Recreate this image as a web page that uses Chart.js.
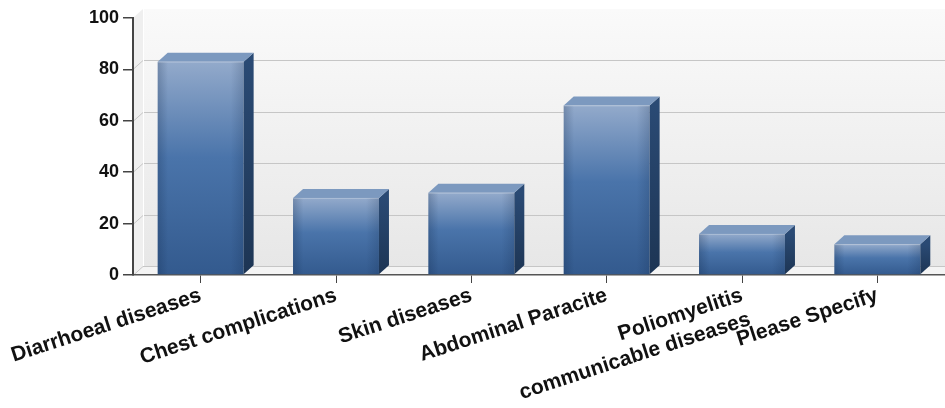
<!DOCTYPE html>
<html>
<head>
<meta charset="utf-8">
<script src="https://cdn.jsdelivr.net/npm/chart.js@4.4.1/dist/chart.umd.min.js"></script>
<style>
  html, body { margin: 0; padding: 0; background: #fff; }
  #wrap { width: 945px; height: 408px; }
</style>
</head>
<body>
<div id="wrap"><canvas id="c"></canvas></div>
<script>
// data
const categories = [
  'Diarrhoeal diseases',
  'Chest complications',
  'Skin diseases',
  'Abdominal Paracite',
  ['Poliomyelitis', 'communicable diseases'],
  'Please Specify',
];
const cases = [83, 30, 32, 66, 16, 12];
const yTicks = [0, 20, 40, 60, 80, 100];

// fake 3D depth (px)
const DX = 10;
const DY = -9;

function poly(ctx, pts, fill) {
  ctx.beginPath();
  ctx.moveTo(pts[0][0], pts[0][1]);
  for (let i = 1; i < pts.length; i++) ctx.lineTo(pts[i][0], pts[i][1]);
  ctx.closePath();
  ctx.fillStyle = fill;
  ctx.fill();
}

const box3d = {
  id: 'box3d',
  beforeDraw(chart) {
    const { ctx, chartArea: a, scales: { y } } = chart;
    ctx.save();
    ctx.fillStyle = '#fff';
    ctx.fillRect(0, 0, chart.width, chart.height);

    const bx = a.left + DX, by = a.top + DY, bb = a.bottom + DY;
    // back wall
    const g = ctx.createLinearGradient(0, by, 0, bb);
    g.addColorStop(0, '#fafafa');
    g.addColorStop(1, '#e7e7e7');
    ctx.fillStyle = g;
    ctx.fillRect(bx, by, a.right - bx, bb - by);
    // left wall + floor
    poly(ctx, [[a.left, a.top], [bx, by], [bx, bb], [a.left, a.bottom]], '#efefef');
    poly(ctx, [[a.left, a.bottom], [bx, bb], [a.right, bb], [a.right, a.bottom]], '#f4f4f4');

    // grid on the back wall (none at the top value)
    ctx.lineWidth = 1;
    ctx.strokeStyle = '#c6c6c6';
    y.ticks.forEach(t => {
      if (t.value >= y.max) return;
      const py = Math.round(y.getPixelForValue(t.value)) + 0.5;
      ctx.beginPath();
      ctx.moveTo(a.left, py);
      ctx.lineTo(bx, py + DY);
      ctx.lineTo(a.right, py + DY);
      ctx.stroke();
    });
    ctx.strokeStyle = '#ffffff';
    ctx.beginPath();
    ctx.moveTo(bx + 0.5, by);
    ctx.lineTo(bx + 0.5, bb);
    ctx.stroke();
    ctx.restore();
  },
  afterDatasetsDraw(chart) {
    const { ctx } = chart;
    ctx.save();
    chart.getDatasetMeta(0).data.forEach(bar => {
      const { x, y, width, base } = bar.getProps(['x', 'y', 'width', 'base'], true);
      const l = x - width / 2, r = x + width / 2;

      // soft edge shading on the front face
      const h = ctx.createLinearGradient(l, 0, r, 0);
      h.addColorStop(0, 'rgba(10,30,60,0.22)');
      h.addColorStop(0.12, 'rgba(10,30,60,0)');
      h.addColorStop(0.85, 'rgba(10,30,60,0)');
      h.addColorStop(1, 'rgba(10,30,60,0.18)');
      ctx.fillStyle = h;
      ctx.fillRect(l, y, width, base - y);

      // side face
      const s = ctx.createLinearGradient(0, y, 0, base);
      s.addColorStop(0, '#2a4a74');
      s.addColorStop(1, '#1d3554');
      poly(ctx, [[r, y], [r + DX, y + DY], [r + DX, base + DY], [r, base]], s);

      // top face
      poly(ctx, [[l, y], [l + DX, y + DY], [r + DX, y + DY], [r, y]], '#7c99bf');
      ctx.strokeStyle = 'rgba(255,255,255,0.25)';
      ctx.lineWidth = 1;
      ctx.beginPath();
      ctx.moveTo(l, y + 0.5);
      ctx.lineTo(r, y + 0.5);
      ctx.stroke();
    });
    ctx.restore();
  },
};

function frontFill(c) {
  const chart = c.chart;
  const ys = chart.scales.y;
  if (!chart.chartArea || !ys || c.raw == null) return '#4a72a6';
  const top = ys.getPixelForValue(c.raw);
  const bot = ys.getPixelForValue(0);
  const g = chart.ctx.createLinearGradient(0, top, 0, bot);
  g.addColorStop(0, '#93aacb');
  g.addColorStop(0.45, '#4a74aa');
  g.addColorStop(1, '#335a8e');
  return g;
}

new Chart(document.getElementById('c'), {
  type: 'bar',
  data: {
    labels: categories,
    datasets: [{
      data: cases,
      backgroundColor: frontFill,
      borderWidth: 0,
      categoryPercentage: 1,
      barPercentage: 0.635,
    }],
  },
  options: {
    responsive: true,
    maintainAspectRatio: false,
    animation: false,
    layout: { padding: { top: 18, right: 0, left: 0, bottom: 0 } },
    plugins: { legend: { display: false }, tooltip: { enabled: false } },
    scales: {
      x: {
        afterFit: s => { s.height = 133; },
        grid: { offset: false, drawOnChartArea: false, drawTicks: true, tickLength: 8, color: '#444' },
        border: { display: true, color: '#555', width: 1.5 },
        ticks: {
          autoSkip: false,
          minRotation: 18,
          maxRotation: 18,
          padding: 0,
          color: '#111',
          font: { family: "'Liberation Sans', Arial, sans-serif", size: 21, weight: 'bold' },
        },
      },
      y: {
        min: yTicks[0],
        max: yTicks[yTicks.length - 1],
        afterFit: s => { s.width = 133; },
        grid: { drawOnChartArea: false, drawTicks: true, tickLength: 10, color: '#444', lineWidth: 1.5 },
        border: { display: true, color: '#444', width: 2 },
        ticks: {
          stepSize: yTicks[1] - yTicks[0],
          padding: 4,
          color: '#111',
          font: { family: "'Liberation Sans', Arial, sans-serif", size: 18, weight: 'bold' },
        },
      },
    },
  },
  plugins: [box3d],
});
</script>
</body>
</html>
